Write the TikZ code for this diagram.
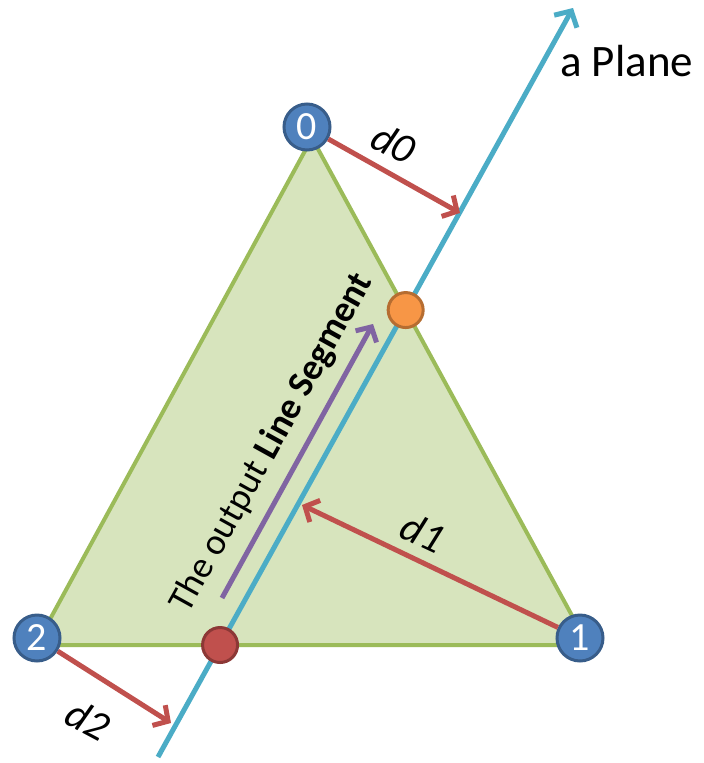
\documentclass[tikz,border=0pt]{standalone}
\usepackage{fontspec}
\setmainfont{Carlito}
\usetikzlibrary{arrows.meta}
\definecolor{trifill}{RGB}{215,228,189}
\definecolor{triedge}{RGB}{155,187,89}
\definecolor{planeblue}{RGB}{75,172,198}
\definecolor{arrred}{RGB}{192,80,77}
\definecolor{arrpurple}{RGB}{128,100,162}
\definecolor{vfill}{RGB}{79,129,189}
\definecolor{vedge}{RGB}{56,93,138}
\definecolor{ofill}{RGB}{247,150,70}
\definecolor{oedge}{RGB}{182,109,49}
\definecolor{rfill}{RGB}{192,80,77}
\definecolor{redge}{RGB}{140,56,54}
\tikzset{
  vert/.style={circle,fill=vfill,draw=vedge,line width=3pt,minimum size=46pt,inner sep=0pt,
    text=white,font=\fontsize{40}{40}\selectfont},
  dot/.style={circle,line width=3pt,minimum size=35pt,inner sep=0pt},
  darr/.style={draw=arrred,line width=5pt,-{Straight Barb[length=11pt,width=24pt]}},
  dlabel/.style={font=\fontsize{42}{42}\selectfont\itshape,inner sep=0pt},
}
\begin{document}
\begin{tikzpicture}[x=1pt,y=-1pt]
\useasboundingbox (0,0) rectangle (704,763);
\coordinate (t0) at (312,138);
\coordinate (t1) at (588,645);
\coordinate (t2) at (36,645);
\coordinate (pa) at (158,757);
\coordinate (pb) at (573,8);
\coordinate (d0end) at (460,213);
\coordinate (d1end) at (302,505);
\coordinate (d2end) at (171,723);
\coordinate (sega) at (222,598);
\coordinate (segb) at (373,324);
% triangle
\filldraw[fill=trifill,draw=triedge,line width=4pt,line join=round] (t0) -- (t1) -- (t2) -- cycle;
% plane line
\draw[draw=planeblue,line width=5pt,-{Straight Barb[length=12pt,width=26pt]}] (pa) -- (pb);
% output segment
\draw[draw=arrpurple,line width=5pt,-{Straight Barb[length=11pt,width=24pt]}] (sega) -- (segb);
\node[rotate=61,inner sep=0pt,font=\fontsize{37}{37}\selectfont] (segtext) at (272,443) {The output \textbf{Line Segment}};
% vertices
\node[vert] (v0) at (307,127) {0};
\node[vert] (v1) at (580,638) {1};
\node[vert] (v2) at (37,638) {2};
% distance arrows
\draw[darr] (v0) -- (d0end);
\draw[darr] (v1) -- (d1end);
\draw[darr] (v2) -- (d2end);
\node[dlabel,rotate=-27] (l0) at (394,143) {d0};
\node[dlabel,rotate=-25] (l1) at (423,532) {d1};
\node[dlabel,rotate=-28] (l2) at (88,720) {d2};
% intersection points
\node[dot,fill=ofill,draw=oedge] (io) at (intersection of t0--t1 and pa--pb) {};
\node[dot,fill=rfill,draw=redge] (ir) at (intersection of t2--t1 and pa--pb) {};
% plane label
\node[anchor=base west,inner sep=0pt,font=\fontsize{45}{45}\selectfont] (plane) at (560,76) {a Plane};
\end{tikzpicture}
\end{document}
